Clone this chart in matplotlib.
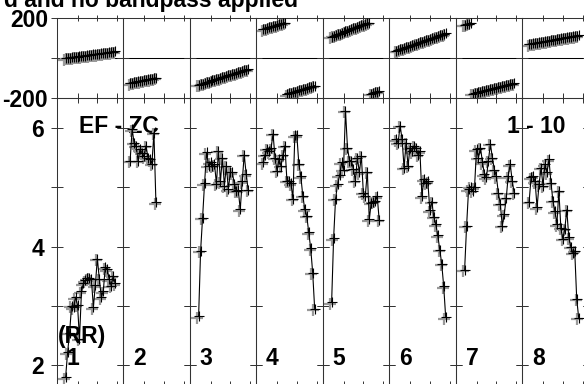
import matplotlib
matplotlib.use("Agg")
import matplotlib.pyplot as plt
import matplotlib.transforms as mtransforms
import numpy as np

plt.rcParams['font.family'] = ['Liberation Sans', 'DejaVu Sans']
plt.rcParams['font.weight'] = 'bold'

W, H, DPI = 584, 384, 100
FS = 16.5

# first channel plotted in each of the 8 visible baseline panels
chan_first = [4, 3, 4, 3, 4, 3, 4, 3]

# amplitude (Jy) per channel
amp1 = [1.80, 2.22, 2.55, 3.00, 2.98, 3.15, 3.02, 2.45, 3.25, 3.38, 3.43, 3.47, 3.48,
        3.45, 2.98, 3.35, 3.80, 3.46, 3.15, 3.25, 3.65, 3.62, 3.45, 3.34, 3.51, 3.38]
amp2 = [5.45, 5.98, 5.75, 5.70, 5.45, 5.64, 5.58, 5.52, 5.70, 5.50, 5.47, 5.40, 5.92, 4.75]
amp3 = [2.83, 3.93, 4.49, 5.07, 5.59, 5.36, 5.42, 5.36, 5.39, 5.06, 5.62, 5.10, 5.50,
        5.03, 5.36, 4.97, 5.25, 5.25, 5.06, 4.94, 4.95, 4.63, 5.10, 5.55, 5.22, 4.96]
amp4 = [5.42, 5.55, 5.65, 5.61, 5.66, 5.90, 5.50, 5.28, 5.47, 5.36, 5.55, 5.70, 5.11, 5.11,
        5.07, 4.81, 5.88, 5.88, 5.40, 5.19, 4.86, 4.63, 4.52, 4.24, 3.97, 3.56, 2.95]
amp5 = [3.06, 4.14, 4.81, 5.05, 5.20, 5.42, 5.30, 6.29, 5.67, 5.45, 5.45, 5.31, 5.11,
        5.50, 5.25, 5.53, 4.91, 4.86, 5.26, 4.46, 4.74, 4.76, 4.77, 4.85, 4.45]
amp6 = [5.81, 5.75, 6.04, 5.81, 5.33, 5.75, 5.36, 5.67, 5.61, 5.70, 5.67, 5.55, 5.61,
        4.85, 5.14, 5.08, 5.10, 4.61, 4.76, 4.50, 4.38, 4.19, 3.95, 3.71, 3.33, 2.81]
amp7 = [3.61, 4.35, 4.97, 5.01, 4.94, 5.00, 5.64, 5.50, 5.67, 5.42, 5.22, 5.17, 5.45,
        5.73, 5.50, 5.30, 5.19, 4.91, 4.72, 4.35, 4.55, 4.82, 5.19, 5.39, 5.11, 4.91]
amp8 = [4.76, 5.17, 5.19, 5.10, 4.66, 5.05, 5.33, 5.03, 5.39, 5.25, 5.47, 5.08, 4.77,
        4.60, 4.38, 4.94, 4.32, 4.13, 4.30, 4.62, 4.16, 4.00, 3.90, 3.93, 3.12, 2.80]

# phase (degrees) per channel
phs1 = [1, 2, 3, 5, 6, 7, 8, 10, 11, 12, 13, 15, 16, 17, 19, 20, 21, 22, 24, 25,
        27, 28, 30, 31, 33, 35]
phs2 = [-124, -122, -120, -118, -116, -114, -112, -110, -108, -106, -104, -102, -100, -98]
phs3 = [-133, -130, -127, -124, -121, -118, -114, -111, -108, -105, -102, -99, -96,
        -93, -90, -86, -83, -80, -77, -74, -71, -68, -65, -61, -58, -55]
phs4 = [145, 148, 151, 154, 157, 160, 163, 166, 169, 172, 175, 178, -179, -176,
        -173, -170, -167, -164, -161, -158, -155, -152, -149, -146, -143, -140, -137]
phs5 = [108, 112, 115, 119, 123, 126, 130, 134, 138, 141, 145, 149, 152, 156, 160,
        164, 167, 171, 175, 178, -178, -175, -171, -167, -164]
phs6 = [37, 40, 44, 47, 51, 54, 58, 61, 65, 68, 72, 75, 79, 82, 86, 89, 93, 96,
        100, 103, 107, 110, 114, 117, 121, 125]
phs7 = [167, 170, 173, 177, -178, -175, -173, -170, -168, -165, -163, -160, -158,
        -155, -153, -150, -148, -145, -143, -140, -138, -135, -133, -130, -128, -125]
phs8 = [70, 72, 74, 75, 77, 79, 81, 83, 84, 86, 88, 90, 92, 93, 95, 97, 99, 101,
        102, 104, 106, 108, 110, 111, 113, 115]

amps = [amp1, amp2, amp3, amp4, amp5, amp6, amp7, amp8]
phss = [phs1, phs2, phs3, phs4, phs5, phs6, phs7, phs8]

TITLE = "d and no bandpass applied"
SOURCE = "EF - ZC"
RANGE = "1 - 10"
POL = "(RR)"

# layout in pixels (from top-left)
X0, STEP = 56.8, 66.5
TOP_Y0, TOP_Y1 = 18.3, 98.3
BOT_Y1 = 386.1
AMP_LIM = (1.65, 6.5)
PH_LIM = (-200, 200)
CH_LIM = (-0.45, 33.1)
SPINE = '0.2'


def split_wraps(ch, ph):
    ch = np.asarray(ch, float)
    ph = np.asarray(ph, float)
    jumps = np.where(np.abs(np.diff(ph)) > 180)[0] + 1
    return np.insert(ch, jumps, np.nan), np.insert(ph, jumps, np.nan)


def style(ax, yticks, xlen):
    ax.set_xlim(*CH_LIM)
    ax.set_xticks([10, 20, 30])
    ax.set_yticks(yticks)
    ax.tick_params(axis='x', which='both', direction='inout', length=xlen, width=0.7,
                   color=SPINE, top=True, bottom=True, labelbottom=False)
    ax.tick_params(axis='y', direction='inout', length=8.5, width=0.7, color=SPINE,
                   left=True, right=True, labelleft=False, labelsize=FS, pad=4)
    for s in ax.spines.values():
        s.set_color(SPINE)
        s.set_linewidth(0.75)
    ax.set_facecolor('none')


def draw(ax, ch, vals, fig):
    shift = mtransforms.ScaledTranslation(-1.2 / DPI, -1.5 / DPI, fig.dpi_scale_trans)
    ax.plot(ch, vals, ls='none', marker='+', ms=8, mew=1.6, color='0.6',
            transform=ax.transData + shift, zorder=2)
    ax.plot(ch, vals, color='black', lw=0.8, marker='+', ms=7.5, mew=0.8, zorder=3)


fig = plt.figure(figsize=(W / DPI, H / DPI), dpi=DPI)

for i in range(9):
    left = (X0 + STEP * i) / W
    width = STEP / W
    ax_p = fig.add_axes([left, 1 - TOP_Y1 / H, width, (TOP_Y1 - TOP_Y0) / H])
    ax_a = fig.add_axes([left, 1 - BOT_Y1 / H, width, (BOT_Y1 - TOP_Y1) / H])
    ax_p.set_ylim(*PH_LIM)
    ax_a.set_ylim(*AMP_LIM)
    style(ax_p, [-200, 0, 200], 4)
    style(ax_a, [2, 3, 4, 5, 6], 7)
    ax_p.axhline(0, color='black', lw=0.75, zorder=1)

    if i == 0:
        ax_p.tick_params(axis='y', labelleft=True, pad=2)
        ax_p.set_yticks([-200, 0, 200], ['-200', '', '200'])
        ax_a.tick_params(axis='y', labelleft=True, pad=5)
        ax_a.set_yticks([2, 3, 4, 5, 6], ['2', '', '4', '', '6'])
        for lab in ax_p.get_yticklabels() + ax_a.get_yticklabels():
            lab.set_fontweight('bold')

    if i < 8:
        ch = np.arange(chan_first[i], chan_first[i] + len(amps[i]))
        draw(ax_a, ch, amps[i], fig)
        pc, pv = split_wraps(ch, phss[i])
        draw(ax_p, pc, pv, fig)
        ax_a.text(4.5, 2.0, str(i + 1), fontsize=FS, fontweight='bold',
                  ha='left', va='baseline', zorder=5)

    if i == 0:
        ax_a.text(11.0, 5.92, SOURCE, fontsize=FS, fontweight='bold', ha='left',
                  va='baseline', clip_on=False, zorder=6)
        ax_a.text(0.15, 2.37, POL, fontsize=FS, fontweight='bold', ha='left',
                  va='baseline', clip_on=False, zorder=6)
    if i == 6:
        ax_a.text(25.5, 5.92, RANGE, fontsize=FS, fontweight='bold', ha='left',
                  va='baseline', clip_on=False, zorder=6)

fig.text(298 / W, 1 - 7.3 / H, TITLE, fontsize=FS, fontweight='bold',
         ha='right', va='baseline')

fig.savefig("out.png", dpi=DPI)
